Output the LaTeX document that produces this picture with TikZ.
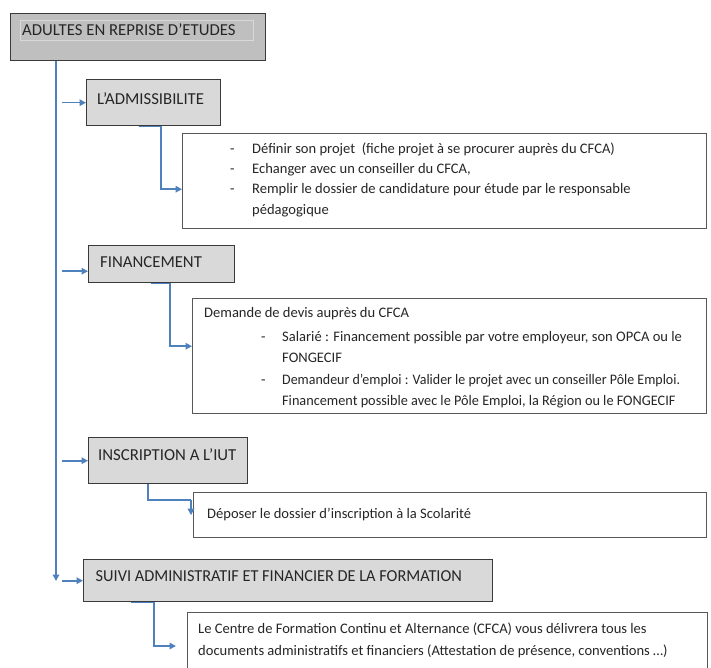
\documentclass[tikz,border=0pt]{standalone}
\usepackage{fontspec}
\setmainfont{Carlito}
\usetikzlibrary{arrows.meta}
\definecolor{conncol}{HTML}{4F81BD}
\definecolor{darkgray}{HTML}{BFBFBF}
\definecolor{lightgray}{HTML}{D9D9D9}
\definecolor{edgecol}{HTML}{3A3A3A}
\definecolor{textcol}{HTML}{262626}
\tikzset{
  headbox/.style={draw=edgecol, line width=1.4bp, fill=lightgray, anchor=north west, inner sep=0pt},
  topbox/.style={headbox, fill=darkgray},
  textbox/.style={draw=edgecol!85, line width=1.4bp, fill=white, anchor=north west, inner sep=0pt},
  conn/.style={draw=conncol, line width=1.6bp},
  arr/.style={conn, -{Triangle[length=6.5bp,width=6.5bp]}},
  head/.style={anchor=base west, inner sep=0pt, text=textcol, font=\fontsize{16.8}{19}\selectfont},
  body/.style={anchor=base west, inner sep=0pt, text=textcol, font=\fontsize{14.6}{17}\selectfont},
}
\begin{document}
\begin{tikzpicture}[x=1bp,y=-1bp]
\useasboundingbox (0,0) rectangle (711,668);
\clip (0,0) rectangle (711,668);
\fill[white] (0,0) rectangle (711,668);
% boxes
\node[topbox, minimum width=255bp, minimum height=47bp] (top) at (10,13) {};
\draw[draw=black!15, line width=0.8bp] (20,20) rectangle (253,40);
\node[headbox, minimum width=134bp, minimum height=46bp] (adm) at (86,79) {};
\node[textbox, minimum width=524bp, minimum height=95bp] (b1) at (182,133) {};
\node[headbox, minimum width=146bp, minimum height=37bp] (fin) at (88,245) {};
\node[textbox, minimum width=514bp, minimum height=115bp] (b2) at (192,298) {};
\node[headbox, minimum width=159bp, minimum height=46bp] (ins) at (88,437) {};
\node[textbox, minimum width=513bp, minimum height=45bp] (b3) at (193,492) {};
\node[headbox, minimum width=409bp, minimum height=42bp] (sui) at (83,559) {};
\node[textbox, minimum width=520bp, minimum height=70bp] (b4) at (187,612) {};
% heading texts
\node[head] (ttop) at (22,35.5) {ADULTES EN REPRISE D’ETUDES};
\node[head] (tadm) at (97,105) {L’ADMISSIBILITE};
\node[head] (tfin) at (100,267.5) {FINANCEMENT};
\node[head] (tins) at (98,460.5) {INSCRIPTION A L’IUT};
\node[head] (tsui) at (95.5,581) {\scalebox{0.975}[1]{SUIVI ADMINISTRATIF ET FINANCIER DE LA FORMATION}};
% box 1
\node[body] (d11) at (230,153) {-};
\node[body] (l11) at (252,153) {Définir son projet\ \ (fiche projet à se procurer auprès du CFCA)};
\node[body] (d12) at (230,173) {-};
\node[body] (l12) at (252,173) {Echanger avec un conseiller du CFCA,};
\node[body] (d13) at (230,193) {-};
\node[body] (l13) at (252,193) {Remplir le dossier de candidature pour étude par le responsable};
\node[body] (l14) at (252,214) {pédagogique};
% box 2
\node[body] (l20) at (204,317) {Demande de devis auprès du CFCA};
\node[body] (d21) at (261,341) {-};
\node[body] (l21) at (282,341) {Salarié : Financement possible par votre employeur, son OPCA ou le};
\node[body] (l22) at (282,362) {FONGECIF};
\node[body] (d23) at (261,384) {-};
\node[body] (l23) at (282,384) {\scalebox{0.96}[1]{Demandeur d’emploi : Valider le projet avec un conseiller Pôle Emploi.}};
\node[body] (l24) at (282,405) {\scalebox{0.98}[1]{Financement possible avec le Pôle Emploi, la Région ou le FONGECIF}};
% box 3
\node[body] (l31) at (207,518) {Déposer le dossier d’inscription à la Scolarité};
% box 4
\node[body] (l41) at (198,633) {Le Centre de Formation Continu et Alternance (CFCA) vous délivrera tous les};
\node[body] (l42) at (198,655) {documents administratifs et financiers (Attestation de présence, conventions …)};
% connectors
\coordinate (mx) at (62,0);
\coordinate (mainx) at (56,0);
\draw[arr] (top.south -| mainx) -- (0,581 -| mainx);
\draw[arr] (adm.west -| mx) -- (adm.west);
\draw[arr] ([yshift=-7bp]fin.west -| mx) -- ([yshift=-7bp]fin.west);
\draw[arr] (ins.west -| mx) -- (ins.west);
\draw[arr] (sui.west -| mx) -- (sui.west);
\draw[arr] ([xshift=-15bp]adm.south) -- ++(22,0) |- ([yshift=-8bp]b1.west);
\draw[arr] ([xshift=-11bp]fin.south) -- ++(19,0) |- ([yshift=10bp]b2.west);
\draw[conn] ([xshift=-20bp]ins.south) |- (191,500) coordinate (c3);
\draw[arr] (c3) -- (c3 |- b3.center) ;
\draw[arr, shorten >=11bp] ([xshift=-157bp]sui.south) -- ++(23,0) |- (b4.north west |- 0,646);
\end{tikzpicture}
\end{document}
